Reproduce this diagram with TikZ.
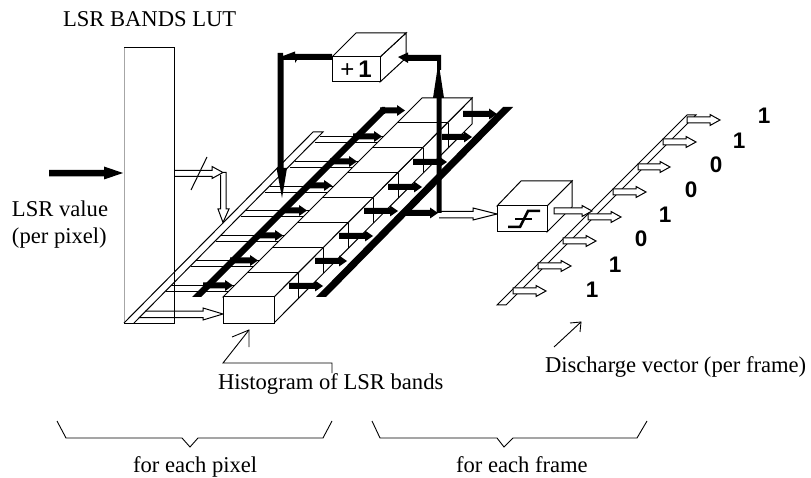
\documentclass[tikz,border=0pt]{standalone}
\usepackage{fontspec}
\setmainfont{Liberation Serif}
\newfontfamily\digitfont{Liberation Sans}
\newcommand{\blackarrow}[3]{% x1, x2, y
  \fill[black] (#1,#3-3) -- (#2-8,#3-3) -- (#2-8,#3-5.5) -- (#2,#3) -- (#2-8,#3+5.5) -- (#2-8,#3+3) -- (#1,#3+3) -- cycle;}
\newcommand{\whitearrow}[3]{% x1, x2, y
  \filldraw[wire,fill=white] (#1,#3-3) -- (#2-10,#3-3) -- (#2-10,#3-5.5) -- (#2,#3) -- (#2-10,#3+5.5) -- (#2-10,#3+3) -- (#1,#3+3) -- cycle;}
\tikzset{
  wire/.style={line width=1pt,draw=black,line join=miter},
  face/.style={wire,fill=white},
  lbl/.style={font=\fontsize{22.6}{26}\selectfont,anchor=base west,inner sep=0pt,outer sep=0pt},
  digit/.style={font=\digitfont\bfseries\fontsize{22.5}{26}\selectfont,inner sep=0pt},
  boxfront/.style={wire,fill=white,inner sep=0pt,outer sep=0pt,rectangle},
  brace/.style={line width=0.9pt,line join=miter},
  pointer/.style={line width=0.9pt}
}
\begin{document}
\begin{tikzpicture}[x=1pt,y=-1pt]
\useasboundingbox (0,0) rectangle (811,478);
% LUT
\node[boxfront,draw=none,minimum width=50pt,minimum height=275pt,anchor=north west] (lut) at (124,48) {};
\draw[wire,draw=gray!70] (lut.south west) -- (lut.north west);
\draw[wire] (lut.north west) -- (lut.north east) -- (lut.south east) -- (lut.south west);
% input arrow
\fill[black] (49,170) -- (104,170) -- (104,166.5) -- (123,173) -- (104,179.5) -- (104,176.5) -- (49,176.5) -- cycle;
% LUT output arrow with slash
\draw[wire] (174,170.5) -- (212,170.5) -- (212,166.5) -- (223,172.5) -- (212,178.5) -- (212,176.5) -- (174,176.5);
\draw[wire] (223,172.5) -- (226,172.5) -- (226,209) -- (229,209) -- (223,222.5) -- (218,209) -- (220.5,209) -- (220.5,175);
\draw[wire] (207,157) -- (191,190);
% slanted input bar
\draw[wire] (124,323) -- (313,132) -- (323,132) -- (134,323);
% white bin arrows
\foreach \y in {137,162,187,211,236,261,286}{
  \draw[wire] ({134+323-\y},\y) -- ({223+297-\y+6},\y);
  \draw[wire] ({134+323-\y-5.5},\y+5.5) -- ({223+297-\y+6},\y+5.5);
}
\draw[wire] (145,311) -- (203,311) -- (203,308) -- (223,314) -- (203,320) -- (203,317.5) -- (139,317.5);
% histogram stack
\filldraw[face] (274,297) -- (274,323) -- (472,124) -- (472,98) -- cycle;
\filldraw[face] (223,297) -- (274,297) -- (472,98) -- (422,98) -- cycle;
\node[boxfront,draw,minimum width=51pt,minimum height=26pt,anchor=north west] (hist) at (223,297) {};
\foreach \y in {123,148,173,198,223,248,273}{
  \draw[wire] ({223+297-\y},\y) -- ({274+297-\y},\y);
  \draw[wire] ({274+297-\y},\y) -- ({274+297-\y},\y+25);
}
% left black manifold
\fill[black] (192,297) -- (382,107) -- (385,107) -- (385,114) -- (384,114) -- (201,297) -- cycle;
\blackarrow{203}{233}{285.5}
\blackarrow{230}{258}{260.5}
\blackarrow{257}{283}{235.5}
\blackarrow{283}{307}{210.5}
\blackarrow{307}{332}{185.5}
\blackarrow{330}{357}{161.5}
\blackarrow{353}{382}{136.5}
\blackarrow{380}{405}{110.5}
% right black manifold
\fill[black] (316,297) -- (326,297) -- (513,107) -- (503,107) -- cycle;
\blackarrow{289}{323}{286}
\blackarrow{315}{347}{261}
\blackarrow{339}{373}{236}
\blackarrow{364}{398}{211}
\blackarrow{388}{422}{187}
\blackarrow{413}{447}{162}
\blackarrow{442}{472}{137}
\blackarrow{463}{497}{114}
% +1 box
\filldraw[face] (380,57) -- (380,82) -- (406,58) -- (406,33) -- cycle;
\filldraw[face] (332,57) -- (356,33) -- (406,33) -- (380,57) -- cycle;
\node[boxfront,draw,minimum width=48pt,minimum height=25pt,anchor=north west,font=\digitfont\fontsize{24}{26}\selectfont] (plus) at (332,57) {+\,\textbf{1}};
% feedback
\fill[black] (436.5,98) -- (433,98) -- (438.5,62) -- (444,98) -- (441.5,98) -- (441.5,213) -- (436.5,213) -- cycle;
\fill[black] (441,55) -- (408,55) -- (408,52.5) -- (398,57) -- (408,63) -- (408,61) -- (437,61) -- (437,70) -- (441,70) -- cycle;
\blackarrow{406}{438}{213}
\fill[black] (plus.north west) ++(0,-3) -- (295,54) -- (295,51.5) -- (283,56) -- (283,53) -- (277.5,53) -- (277.5,168) -- (276.5,168) -- (282,198) -- (287,168) -- (283.5,168) -- (283.5,60) -- (295,60) -- (295,63) -- (297,60) -- (332,60) -- cycle;
% threshold box
\filldraw[face] (547,206) -- (547,232) -- (572,207) -- (572,181) -- cycle;
\filldraw[face] (497,206) -- (521,181) -- (572,181) -- (547,206) -- cycle;
\node[boxfront,draw,minimum width=50pt,minimum height=26pt,anchor=north west] (thresh) at (497,206) {};
\draw[line width=2.5pt] (508,227) -- (520,227) -- (528,211) -- (540,211);
\draw[line width=2.2pt] (515,219) -- (532,219);
% white link to threshold
\draw[wire] (439,211.5) -- (473,211.5) -- (473,208) -- (497,214);
\draw[wire] (439,218) -- (473,218) -- (473,220) -- (497,214);
% discharge vector bar
\draw[wire] (687,115) -- (497,305) -- (506,305) -- (696,115) -- cycle;
\foreach \a/\b/\y in {513/546/291,538/571/266,563/596/241,588/621/217,613/646/192,638/670/167,663/696/142,687/720/120}{
  \whitearrow{\a}{\b}{\y}
}
\whitearrow{554}{592}{211}
% digits
\node[digit] (d1) at (592,290) {1};
\node[digit] (d2) at (615,265) {1};
\node[digit] (d3) at (641,239) {0};
\node[digit] (d4) at (665,215) {1};
\node[digit] (d5) at (691,190) {0};
\node[digit] (d6) at (716,165) {0};
\node[digit] (d7) at (739,141) {1};
\node[digit] (d8) at (764,116) {1};
% labels
\node[lbl] (t1) at (63,27) {LSR BANDS LUT};
\node[lbl] (t2) at (12,217) {LSR value};
\node[lbl] (t3) at (12,244) {(per pixel)};
\node[lbl] (t4) at (218,389) {Histogram of LSR bands};
\node[lbl] (t5) at (545,372) {Discharge vector (per frame)};
\node[lbl] (t6) at (133,472.5) {for each pixel};
\node[lbl] (t7) at (456,472.5) {for each frame};
% pointers
\draw[pointer] (332,373) -- (332,363) -- (223,363) -- (249,330);
\draw[pointer] (232,337) -- (249,330) -- (249,347);
\draw[pointer] (554,347) -- (581,322);
\draw[pointer] (570,323) -- (581,322) -- (580,332);
% braces
\draw[brace] (57,421) -- (66,438) -- (182,438) -- (190,447) -- (198,438) -- (323,438) -- (332,421);
\draw[brace] (372,421) -- (380,438) -- (497,438) -- (504,447) -- (513,438) -- (637,438) -- (647,421);
\end{tikzpicture}
\end{document}
